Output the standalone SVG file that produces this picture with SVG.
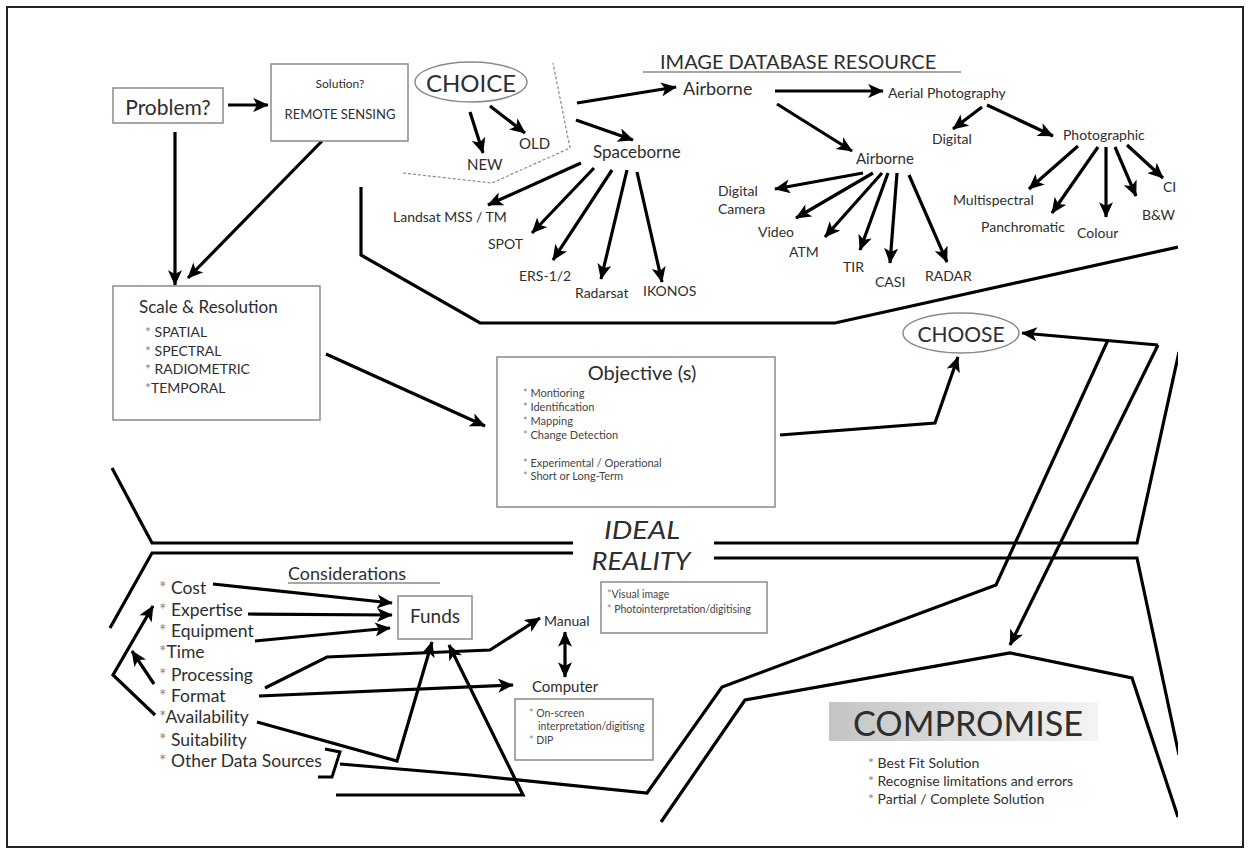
<svg xmlns="http://www.w3.org/2000/svg" width="1250" height="854" viewBox="0 0 1250 854">
<style>
.t{font-family:Lato,"Liberation Sans",sans-serif;fill:#2e2e2e}
.s{fill:#444}
.st{fill:#888}
.box{fill:#fff;stroke:#8a8a8a;stroke-width:1.5}
.c{fill:none;stroke:#000;stroke-width:3.2;stroke-linejoin:miter}
.a{marker-end:url(#ah)}
.ul{stroke:#888;stroke-width:1.5}
</style>
<defs>
<marker id="ah" viewBox="0 0 10 9" refX="9.5" refY="4.5" markerWidth="5.2" markerHeight="4.4" orient="auto-start-reverse" markerUnits="strokeWidth">
<path d="M0,0 L10,4.5 L0,9 L2.5,4.5 z" fill="#000"/>
</marker>
<linearGradient id="cg" x1="0" y1="0" x2="1" y2="0">
<stop offset="0" stop-color="#c4c4c4"/>
<stop offset="1" stop-color="#f4f4f4"/>
</linearGradient>
<clipPath id="clip"><rect x="0" y="0" width="1178" height="854"/></clipPath>
</defs>
<rect x="0" y="0" width="1250" height="854" fill="#fff"/>
<rect x="7" y="7" width="1236" height="840" fill="none" stroke="#222" stroke-width="2"/>
<g clip-path="url(#clip)">
<g id="connectors">
<path class="c a" d="M228,105 L268,105"/>
<path class="c a" d="M175,132 L175,285"/>
<path class="c a" d="M322,141 L188,278"/>
<path class="c a" d="M470,112 L483,153"/>
<path class="c a" d="M490,106 L525,133"/>
<path d="M403,173 L492,183 L570,148 L553,63" fill="none" stroke="#888" stroke-width="1.2" stroke-dasharray="3 2"/>
<path class="c a" d="M577,103 L676,87"/>
<path class="c a" d="M576,120 L633,140"/>
<path class="c a" d="M581,163 L488,205"/>
<path class="c a" d="M594,168 L532,233"/>
<path class="c a" d="M612,170 L553,260"/>
<path class="c a" d="M627,170 L601,279"/>
<path class="c a" d="M637,172 L662,282"/>
<path class="c a" d="M775,91 L883,91"/>
<path class="c a" d="M777,104 L852,151"/>
<path class="c a" d="M982,107 L953,129"/>
<path class="c a" d="M987,105 L1053,136"/>
<path class="c a" d="M863,173 L775,189"/>
<path class="c a" d="M873,173 L796,218"/>
<path class="c a" d="M882,173 L825,237"/>
<path class="c a" d="M888,173 L860,250"/>
<path class="c a" d="M897,173 L890,263"/>
<path class="c a" d="M909,175 L947,262"/>
<path class="c a" d="M1078,146 L1029,189"/>
<path class="c a" d="M1098,147 L1052,213"/>
<path class="c a" d="M1106,147 L1106,217"/>
<path class="c a" d="M1115,147 L1136,196"/>
<path class="c a" d="M1127,145 L1163,178"/>
<path class="c" d="M361,187 L361,255 L480,323 L835,323 L1178,247"/>
<path class="c a" d="M326,354 L485,426"/>
<path class="c a" d="M780,435 L935,423 L958,357"/>
<path class="c a" d="M1158,345 L1022,333"/>
<path class="c a" d="M1158,345 L1010,645"/>
<path class="c" d="M340,764 L470,775 L647,793 L722,687 L996,585 L1108,340"/>
<path class="c" d="M661,822 L745,700 L1010,653 L1132,678 L1178,817"/>
<path class="c" d="M112,468 L152,543 L573,543"/>
<path class="c" d="M110,628 L152,553 L573,553"/>
<path class="c" d="M714,543 L1137,543 L1179,352"/>
<path class="c" d="M714,558 L1137,558 L1179,755"/>
<path class="c a" d="M213,584 L392,603"/>
<path class="c a" d="M248,614 L392,615"/>
<path class="c a" d="M255,641 L390,628"/>
<path class="c a" d="M155,715 L113,675 L153,606"/>
<path class="c a" d="M154,684 L132,651"/>
<path class="c a" d="M265,688 L327,657 L490,650 L540,618"/>
<path class="c a" d="M259,696 L513,685"/>
<path class="c a" d="M257,722 L397,761 L432,642"/>
<path class="c a" d="M336,795 L523,795 L449,645"/>
<path class="c a" d="M565,654 L565,632"/>
<path class="c a" d="M565,654 L565,677"/>
<path d="M325,749 L340,752 L332,777 L318,777" fill="none" stroke="#000" stroke-width="3"/>
<line class="ul" x1="643" y1="72" x2="961" y2="72"/>
<line class="ul" x1="288" y1="583" x2="440" y2="583"/>
</g>
<g id="problem"><rect class="box" x="113" y="88" width="110" height="35"/><text class="t" x="168" y="115" font-size="21" text-anchor="middle">Problem?</text></g>
<g id="solution"><rect class="box" x="271" y="64" width="137" height="77"/><text class="t" x="340" y="88" font-size="12" text-anchor="middle">Solution?</text><text class="t" x="340" y="119" font-size="13" text-anchor="middle">REMOTE SENSING</text></g>
<g id="choice"><ellipse cx="471" cy="82" rx="56" ry="20" fill="#fff" stroke="#8a8a8a" stroke-width="1.5"/><text class="t" x="471" y="92" font-size="24" text-anchor="middle">CHOICE</text></g>
<g id="new"><text class="t" x="467" y="170" font-size="15">NEW</text></g>
<g id="old"><text class="t" x="519" y="149" font-size="15">OLD</text></g>
<g id="spaceborne"><text class="t" x="593" y="158" font-size="17">Spaceborne</text></g>
<g id="landsat"><text class="t" x="393" y="222" font-size="14">Landsat MSS / TM</text></g>
<g id="spot"><text class="t" x="488" y="249" font-size="14">SPOT</text></g>
<g id="ers"><text class="t" x="519" y="281" font-size="14">ERS-1/2</text></g>
<g id="radarsat"><text class="t" x="575" y="298" font-size="14">Radarsat</text></g>
<g id="ikonos"><text class="t" x="643" y="296" font-size="14">IKONOS</text></g>
<g id="title"><text class="t" x="660" y="69" font-size="20">IMAGE DATABASE RESOURCE</text></g>
<g id="airborne"><text class="t" x="683" y="95" font-size="18">Airborne</text></g>
<g id="aerial"><text class="t" x="888" y="98" font-size="14">Aerial Photography</text></g>
<g id="airborne2"><text class="t" x="856" y="164" font-size="15">Airborne</text></g>
<g id="digital"><text class="t" x="932" y="144" font-size="14">Digital</text></g>
<g id="photographic"><text class="t" x="1063" y="140" font-size="14">Photographic</text></g>
<g id="camera"><text class="t" x="718" y="196" font-size="14">Digital</text><text class="t" x="718" y="214" font-size="14">Camera</text></g>
<g id="video"><text class="t" x="758" y="237" font-size="14">Video</text></g>
<g id="atm"><text class="t" x="789" y="257" font-size="14">ATM</text></g>
<g id="tir"><text class="t" x="843" y="272" font-size="14">TIR</text></g>
<g id="casi"><text class="t" x="875" y="287" font-size="14">CASI</text></g>
<g id="radar"><text class="t" x="925" y="281" font-size="14">RADAR</text></g>
<g id="multispectral"><text class="t" x="953" y="205" font-size="14">Multispectral</text></g>
<g id="panchromatic"><text class="t" x="981" y="232" font-size="14">Panchromatic</text></g>
<g id="colour"><text class="t" x="1077" y="238" font-size="14">Colour</text></g>
<g id="bw"><text class="t" x="1142" y="220" font-size="14">B&amp;W</text></g>
<g id="ci"><text class="t" x="1163" y="192" font-size="14">CI</text></g>
<g id="scale"><rect class="box" x="113" y="286" width="207" height="134"/>
<text class="t" x="139" y="313" font-size="17">Scale &amp; Resolution</text>
<text class="t" x="145" y="337" font-size="14"><tspan class="st">*</tspan> SPATIAL</text>
<text class="t" x="145" y="356" font-size="14"><tspan class="st">*</tspan> SPECTRAL</text>
<text class="t" x="145" y="374" font-size="14"><tspan class="st">*</tspan> RADIOMETRIC</text>
<text class="t" x="145" y="393" font-size="14"><tspan class="st">*</tspan>TEMPORAL</text></g>
<g id="objective"><rect class="box" x="497" y="357" width="278" height="150"/>
<text class="t" x="642" y="380" font-size="20" text-anchor="middle">Objective (s)</text>
<text class="t s" x="523" y="397" font-size="11"><tspan class="st">*</tspan> Montioring</text>
<text class="t s" x="523" y="411" font-size="11"><tspan class="st">*</tspan> Identification</text>
<text class="t s" x="523" y="425" font-size="11"><tspan class="st">*</tspan> Mapping</text>
<text class="t s" x="523" y="439" font-size="11"><tspan class="st">*</tspan> Change Detection</text>
<text class="t s" x="523" y="467" font-size="11"><tspan class="st">*</tspan> Experimental / Operational</text>
<text class="t s" x="523" y="480" font-size="11"><tspan class="st">*</tspan> Short or Long-Term</text></g>
<g id="choose"><ellipse cx="961" cy="333" rx="58" ry="20" fill="#fff" stroke="#8a8a8a" stroke-width="1.5"/><text class="t" x="961" y="342" font-size="21" text-anchor="middle">CHOOSE</text></g>
<g id="ideal"><text class="t" x="642" y="539" font-size="25" font-style="italic" text-anchor="middle" textLength="76" lengthAdjust="spacingAndGlyphs">IDEAL</text></g>
<g id="reality"><text class="t" x="641" y="570" font-size="25" font-style="italic" text-anchor="middle" textLength="99" lengthAdjust="spacingAndGlyphs">REALITY</text></g>
<g id="considerations"><text class="t" x="288" y="580" font-size="18">Considerations</text></g>
<g id="list">
<text class="t" x="159" y="594" font-size="17.5"><tspan class="st">*</tspan> Cost</text>
<text class="t" x="159" y="616" font-size="17.5"><tspan class="st">*</tspan> Expertise</text>
<text class="t" x="159" y="637" font-size="17.5"><tspan class="st">*</tspan> Equipment</text>
<text class="t" x="159" y="658" font-size="17.5"><tspan class="st">*</tspan>Time</text>
<text class="t" x="159" y="681" font-size="17.5"><tspan class="st">*</tspan> Processing</text>
<text class="t" x="159" y="702" font-size="17.5"><tspan class="st">*</tspan> Format</text>
<text class="t" x="159" y="723" font-size="17.5"><tspan class="st">*</tspan>Availability</text>
<text class="t" x="159" y="746" font-size="17.5"><tspan class="st">*</tspan> Suitability</text>
<text class="t" x="159" y="767" font-size="17.5"><tspan class="st">*</tspan> Other Data Sources</text></g>
<g id="funds"><rect class="box" x="398" y="596" width="74" height="43"/><text class="t" x="435" y="623" font-size="19" text-anchor="middle">Funds</text></g>
<g id="visual"><rect class="box" x="601" y="582" width="166" height="51"/>
<text class="t s" x="607" y="598" font-size="10.5"><tspan class="st">*</tspan>Visual image</text>
<text class="t s" x="607" y="613" font-size="10.5"><tspan class="st">*</tspan> Photointerpretation/digitising</text></g>
<g id="manual"><text class="t" x="544" y="626" font-size="14">Manual</text></g>
<g id="computer"><text class="t" x="532" y="692" font-size="15">Computer</text>
<rect class="box" x="515" y="699" width="138" height="61"/>
<text class="t s" x="529" y="717" font-size="10.5"><tspan class="st">*</tspan> On-screen</text>
<text class="t s" x="538" y="730" font-size="10.5">interpretation/digitisng</text>
<text class="t s" x="529" y="744" font-size="10.5"><tspan class="st">*</tspan> DIP</text></g>
<g id="compromise"><rect x="829" y="702" width="269" height="39" fill="url(#cg)"/>
<text class="t" x="853" y="736" font-size="35" textLength="230" lengthAdjust="spacingAndGlyphs">COMPROMISE</text>
<text class="t" x="868" y="768" font-size="14"><tspan class="st">*</tspan> Best Fit Solution</text>
<text class="t" x="868" y="786" font-size="14"><tspan class="st">*</tspan> Recognise limitations and errors</text>
<text class="t" x="868" y="804" font-size="14"><tspan class="st">*</tspan> Partial / Complete Solution</text></g>
</g>
</svg>
